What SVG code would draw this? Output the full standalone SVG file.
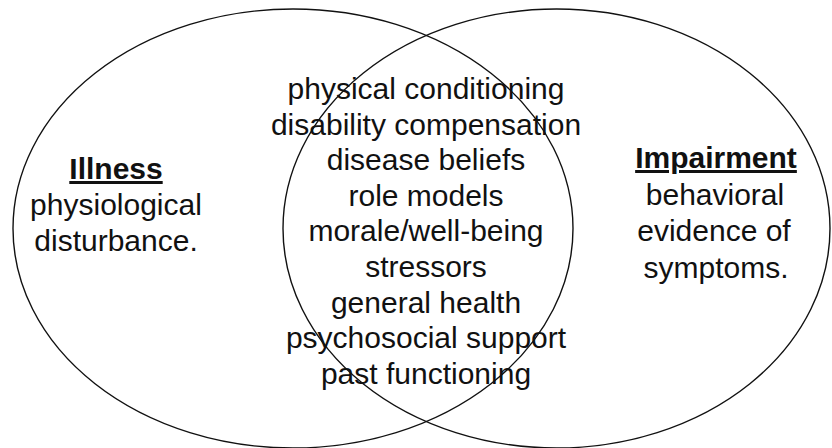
<svg xmlns="http://www.w3.org/2000/svg" width="832" height="448" viewBox="0 0 832 448">
<style>
  .ring { fill: none; stroke: #111; stroke-width: 1.4; }
  text { font-family: "Liberation Sans", Arial, sans-serif; font-size: 30px; fill: #111; text-anchor: middle; }
  .head { font-weight: bold; text-decoration: underline; }
</style>
<rect width="832" height="448" fill="#fff"/>
<g id="illness">
  <ellipse class="ring" cx="293" cy="228.5" rx="280" ry="219.5"/>
  <text class="head" x="116" y="179">Illness</text>
  <text x="116" y="215">physiological</text>
  <text x="116" y="251">disturbance.</text>
</g>
<g id="impairment">
  <ellipse class="ring" cx="556.5" cy="228.5" rx="273.5" ry="219.5"/>
  <text class="head" x="716" y="168">Impairment</text>
  <text x="715" y="204.5">behavioral</text>
  <text x="714" y="241">evidence of</text>
  <text x="716" y="277.5">symptoms.</text>
</g>
<g id="overlap">
  <text x="426" y="99">physical conditioning</text>
  <text x="426" y="134.6">disability compensation</text>
  <text x="426" y="170.2">disease beliefs</text>
  <text x="426" y="205.8">role models</text>
  <text x="426" y="241.4">morale/well-being</text>
  <text x="426" y="277">stressors</text>
  <text x="426" y="312.6">general health</text>
  <text x="426" y="348.2">psychosocial support</text>
  <text x="426" y="383.8">past functioning</text>
</g>
<g id="connectors"></g>
</svg>
